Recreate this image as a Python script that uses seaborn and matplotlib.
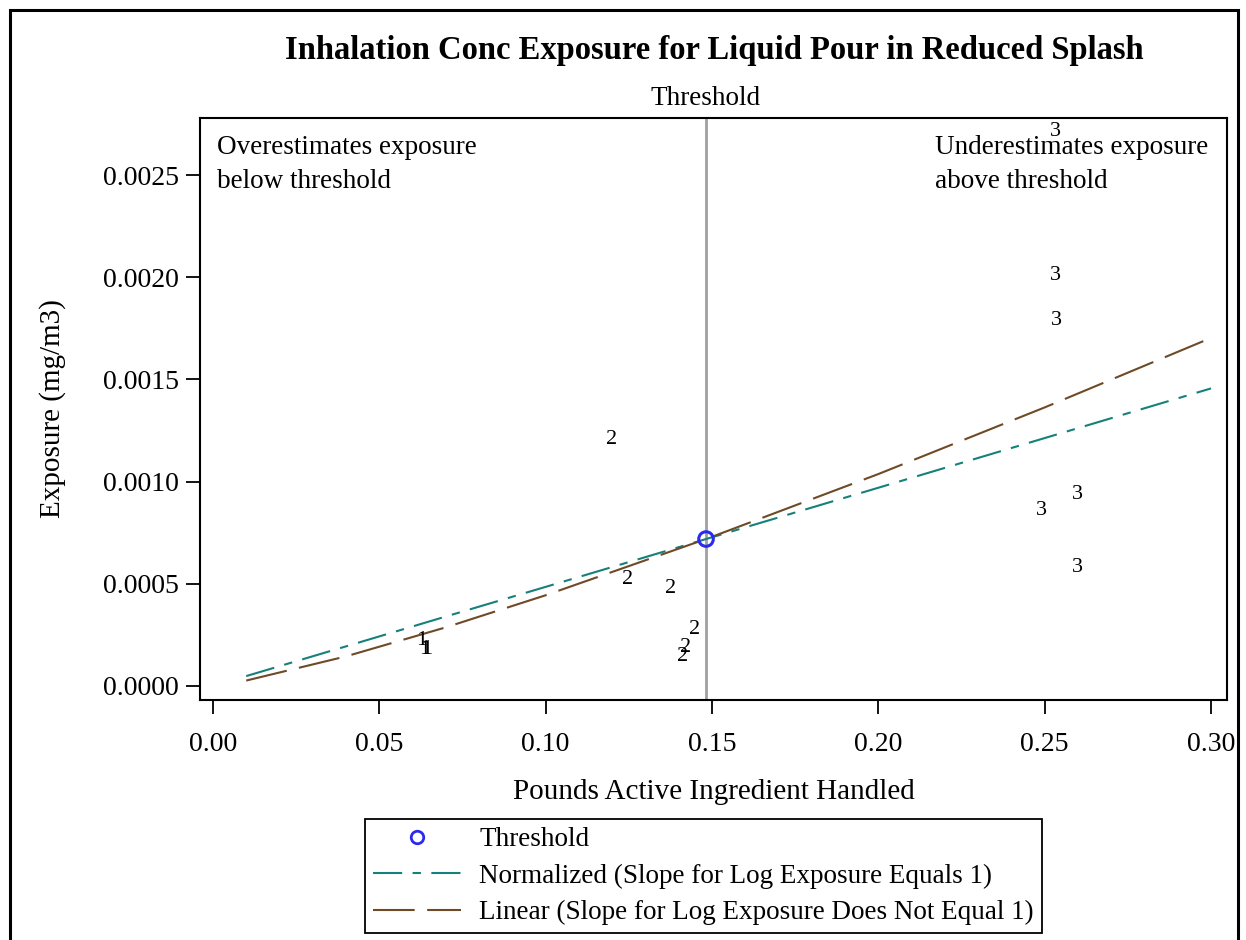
import numpy as np
import pandas as pd
import matplotlib
matplotlib.use("Agg")
import matplotlib.pyplot as plt
import matplotlib.transforms as mtransforms
from matplotlib.lines import Line2D
from matplotlib.patches import Rectangle
import seaborn as sns

# ---------------- data ----------------
title = "Inhalation Conc Exposure for Liquid Pour in Reduced Splash"
xlabel = "Pounds Active Ingredient Handled"
ylabel = "Exposure (mg/m3)"

# observed points, labelled by group number
pt_x = [0.0628, 0.0637, 0.0641,
        0.1199, 0.1245, 0.1374, 0.1449, 0.1421, 0.1413,
        0.2531, 0.2531, 0.2534, 0.2489, 0.2597, 0.2597]
pt_y = [0.000225, 0.000177, 0.000177,
        0.001208, 0.000522, 0.000478, 0.000274, 0.000186, 0.000146,
        0.002715, 0.002010, 0.001790, 0.000861, 0.000939, 0.000578]
pt_group = ["1", "1", "1",
            "2", "2", "2", "2", "2", "2",
            "3", "3", "3", "3", "3", "3"]

threshold_x = [0.1482]
threshold_y = [0.000719]

curve_x = [0.01, 0.04, 0.07, 0.10, 0.1482, 0.20, 0.25, 0.30]
normalized_y = [0.0000485, 0.000194, 0.000340, 0.000485, 0.000719, 0.000970, 0.001213, 0.001456]
linear_y = [0.0000266, 0.000145, 0.000287, 0.000444, 0.000719, 0.001037, 0.001363, 0.001703]

xticks = [0.00, 0.05, 0.10, 0.15, 0.20, 0.25, 0.30]
yticks = [0.0000, 0.0005, 0.0010, 0.0015, 0.0020, 0.0025]

# ---------------- style ----------------
sns.set_theme(style="white")
plt.rcParams["font.family"] = ["Liberation Serif", "DejaVu Serif"]
plt.rcParams["text.color"] = "black"
plt.rcParams["axes.labelcolor"] = "black"
plt.rcParams["xtick.color"] = "black"
plt.rcParams["ytick.color"] = "black"

TEAL = "#16807a"
BROWN = "#6e4a26"
FS_TICK = 20
FS_LAB = 21
FS_TXT = 19.5

fig = plt.figure(figsize=(12.46, 9.40), dpi=100)
W, H = 1246, 940
ax = fig.add_axes([200 / W, 1 - 700 / H, (1227 - 200) / W, (700 - 118) / H])

# figure border
fig.patches.append(Rectangle((10 / W, -0.05), (1238 - 10) / W, 1.05 - 10 / H,
                             transform=fig.transFigure, fill=False,
                             edgecolor="black", linewidth=2.2, zorder=0))

# threshold vertical line
ax.axvline(threshold_x[0], color="#a0a0a0", linewidth=2, zorder=1)

df_curve = pd.DataFrame({"x": curve_x, "norm": normalized_y, "lin": linear_y})
sns.lineplot(data=df_curve, x="x", y="norm", ax=ax, color=TEAL, linewidth=1.5,
             linestyle=(0, (14, 5, 4, 5)), zorder=3)
sns.lineplot(data=df_curve, x="x", y="lin", ax=ax, color=BROWN, linewidth=1.5,
             linestyle=(0, (20, 6)), zorder=3)

df_thr = pd.DataFrame({"x": threshold_x, "y": threshold_y})
sns.scatterplot(data=df_thr, x="x", y="y", ax=ax, marker="o", s=110,
                facecolor="none", edgecolor="#2a2af0", linewidth=2.2, zorder=5)

for x, y, g in zip(pt_x, pt_y, pt_group):
    ax.text(x, y, g, ha="center", va="center", fontsize=16, color="black", zorder=4)

ax.set_xlim(-0.0039, 0.3048)
ax.set_ylim(-0.0000685, 0.002779)
ax.set_xticks(xticks)
ax.set_xticklabels([f"{v:.2f}" for v in xticks])
ax.set_yticks(yticks)
ax.set_yticklabels([f"{v:.4f}" for v in yticks])
ax.tick_params(axis="both", labelsize=FS_TICK, direction="out", length=10, width=1.3,
               color="black", bottom=True, left=True)
ax.tick_params(axis="x", pad=13)
ax.tick_params(axis="y", pad=5)
for s in ax.spines.values():
    s.set_color("black")
    s.set_linewidth(1.5)

ax.set_xlabel(xlabel, fontsize=FS_LAB, labelpad=16)
ax.set_ylabel(ylabel, fontsize=FS_LAB, labelpad=27)

fig.text(714 / W, 1 - 50 / H, title, ha="center", va="center",
         fontsize=23.5, fontweight="bold")

trans = mtransforms.blended_transform_factory(ax.transData, ax.transAxes)
ax.text(threshold_x[0], 1.033, "Threshold", transform=trans, ha="center",
        va="center", fontsize=FS_TXT)

ax.text(0.0166, 0.97, "Overestimates exposure\nbelow threshold", transform=ax.transAxes,
        ha="left", va="top", fontsize=FS_TXT, linespacing=1.45)
ax.text(0.7157, 0.97, "Underestimates exposure\nabove threshold", transform=ax.transAxes,
        ha="left", va="top", fontsize=FS_TXT, linespacing=1.45)

handles = [
    Line2D([], [], linestyle="none", marker="o", markersize=9, markerfacecolor="none",
           markeredgecolor="#2a2af0", markeredgewidth=2),
    Line2D([], [], color=TEAL, linewidth=1.5, linestyle=(0, (14, 5, 4, 5))),
    Line2D([], [], color=BROWN, linewidth=1.5, linestyle=(0, (20, 6))),
]
labels = ["Threshold", "Normalized (Slope for Log Exposure Equals 1)",
          "Linear (Slope for Log Exposure Does Not Equal 1)"]
leg = fig.legend(handles, labels, loc="upper center",
                 bbox_to_anchor=(703.5 / W, 1 - 819 / H), fontsize=FS_TXT,
                 frameon=True, fancybox=False, edgecolor="black", framealpha=1,
                 handlelength=3.25, handletextpad=0.67, labelspacing=0.42,
                 borderpad=0.3, borderaxespad=0)
leg.get_frame().set_linewidth(1.3)

fig.savefig("out.png", dpi=100)
